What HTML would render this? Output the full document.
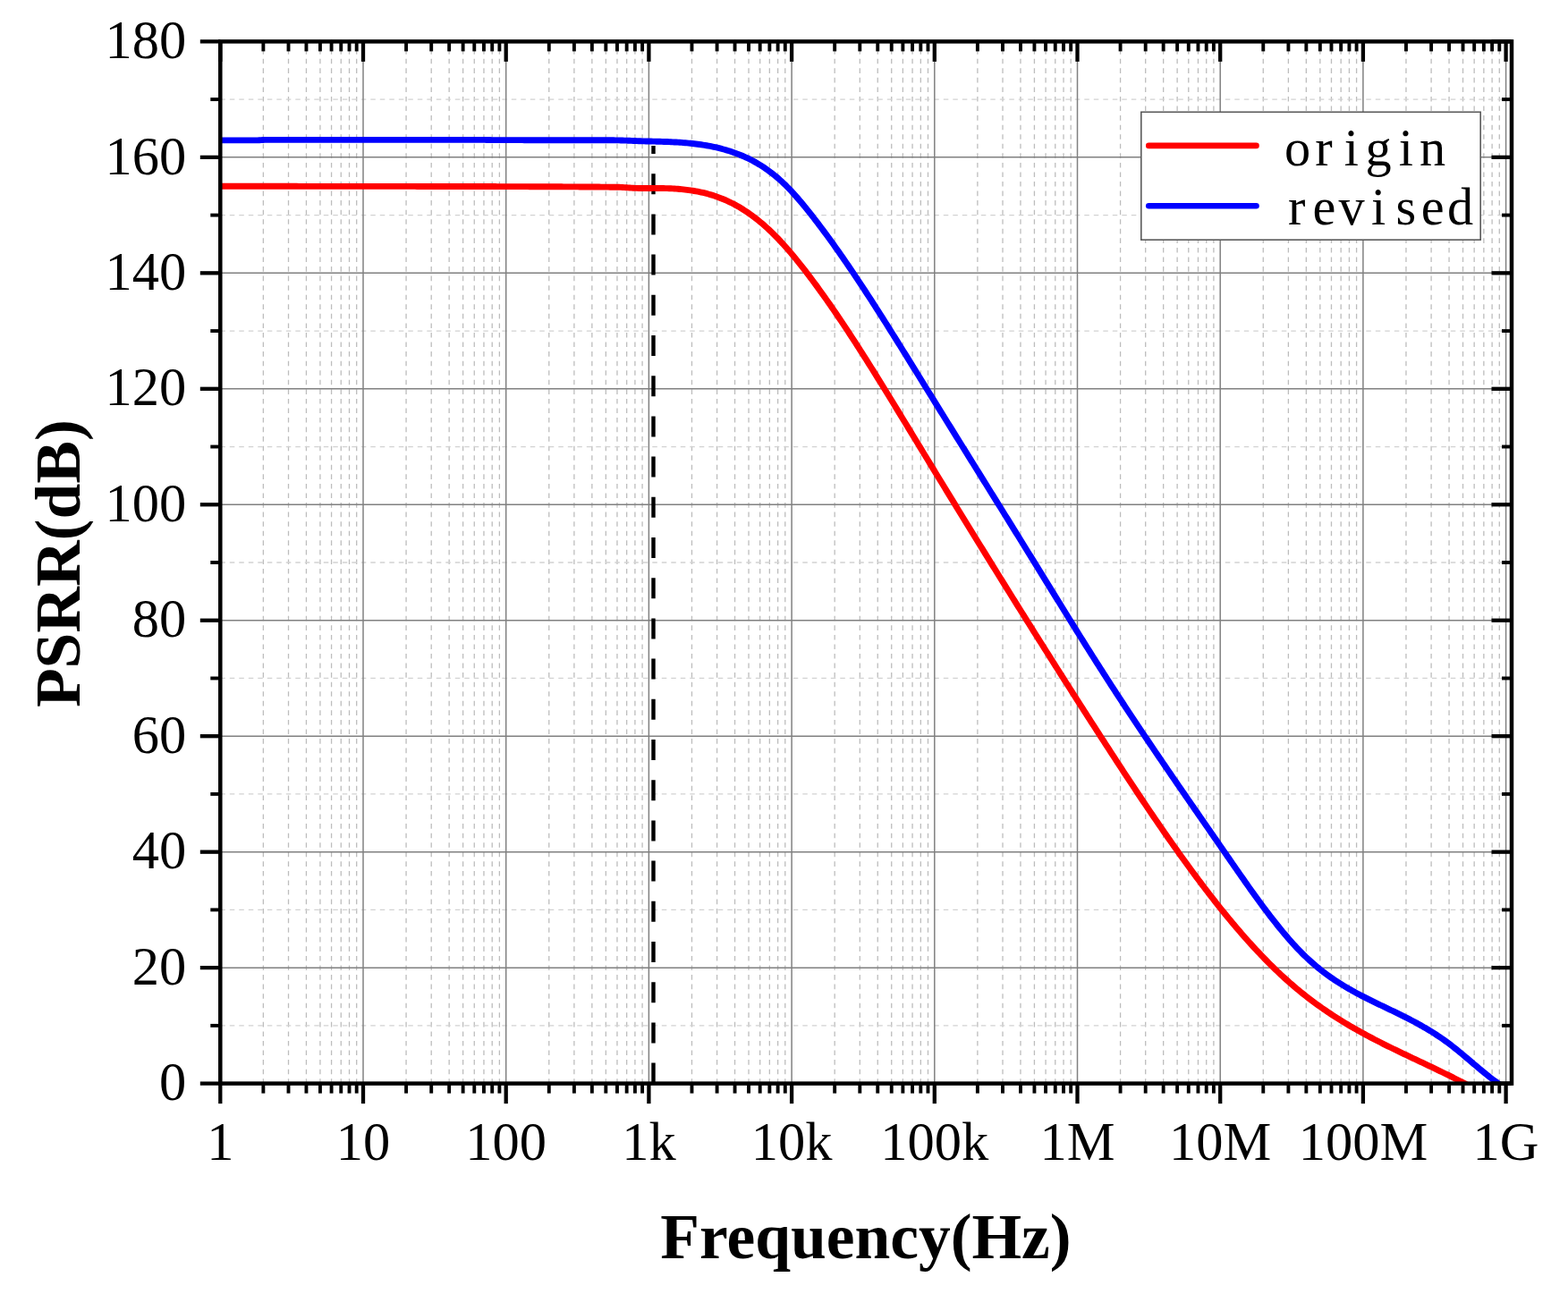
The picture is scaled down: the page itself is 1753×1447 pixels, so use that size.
<!DOCTYPE html>
<html><head><meta charset="utf-8"><title>PSRR</title><style>html,body{margin:0;padding:0;background:#fff;overflow:hidden}svg{display:block}</style></head><body>
<svg width="1753" height="1447" viewBox="0 0 1753 1447">
<rect width="1753" height="1447" fill="#fff"/>
<g stroke="#bdbdbd" stroke-width="1.3" stroke-dasharray="5.6 4.96" fill="none">
<line x1="294.37" y1="44.6" x2="294.37" y2="1211.6"/>
<line x1="322.50" y1="44.6" x2="322.50" y2="1211.6"/>
<line x1="342.45" y1="44.6" x2="342.45" y2="1211.6"/>
<line x1="357.93" y1="44.6" x2="357.93" y2="1211.6"/>
<line x1="370.57" y1="44.6" x2="370.57" y2="1211.6"/>
<line x1="381.26" y1="44.6" x2="381.26" y2="1211.6"/>
<line x1="390.52" y1="44.6" x2="390.52" y2="1211.6"/>
<line x1="398.69" y1="44.6" x2="398.69" y2="1211.6"/>
<line x1="454.07" y1="44.6" x2="454.07" y2="1211.6"/>
<line x1="482.20" y1="44.6" x2="482.20" y2="1211.6"/>
<line x1="502.15" y1="44.6" x2="502.15" y2="1211.6"/>
<line x1="517.63" y1="44.6" x2="517.63" y2="1211.6"/>
<line x1="530.27" y1="44.6" x2="530.27" y2="1211.6"/>
<line x1="540.96" y1="44.6" x2="540.96" y2="1211.6"/>
<line x1="550.22" y1="44.6" x2="550.22" y2="1211.6"/>
<line x1="558.39" y1="44.6" x2="558.39" y2="1211.6"/>
<line x1="613.77" y1="44.6" x2="613.77" y2="1211.6"/>
<line x1="641.90" y1="44.6" x2="641.90" y2="1211.6"/>
<line x1="661.85" y1="44.6" x2="661.85" y2="1211.6"/>
<line x1="677.33" y1="44.6" x2="677.33" y2="1211.6"/>
<line x1="689.97" y1="44.6" x2="689.97" y2="1211.6"/>
<line x1="700.66" y1="44.6" x2="700.66" y2="1211.6"/>
<line x1="709.92" y1="44.6" x2="709.92" y2="1211.6"/>
<line x1="718.09" y1="44.6" x2="718.09" y2="1211.6"/>
<line x1="773.47" y1="44.6" x2="773.47" y2="1211.6"/>
<line x1="801.60" y1="44.6" x2="801.60" y2="1211.6"/>
<line x1="821.55" y1="44.6" x2="821.55" y2="1211.6"/>
<line x1="837.03" y1="44.6" x2="837.03" y2="1211.6"/>
<line x1="849.67" y1="44.6" x2="849.67" y2="1211.6"/>
<line x1="860.36" y1="44.6" x2="860.36" y2="1211.6"/>
<line x1="869.62" y1="44.6" x2="869.62" y2="1211.6"/>
<line x1="877.79" y1="44.6" x2="877.79" y2="1211.6"/>
<line x1="933.17" y1="44.6" x2="933.17" y2="1211.6"/>
<line x1="961.30" y1="44.6" x2="961.30" y2="1211.6"/>
<line x1="981.25" y1="44.6" x2="981.25" y2="1211.6"/>
<line x1="996.73" y1="44.6" x2="996.73" y2="1211.6"/>
<line x1="1009.37" y1="44.6" x2="1009.37" y2="1211.6"/>
<line x1="1020.06" y1="44.6" x2="1020.06" y2="1211.6"/>
<line x1="1029.32" y1="44.6" x2="1029.32" y2="1211.6"/>
<line x1="1037.49" y1="44.6" x2="1037.49" y2="1211.6"/>
<line x1="1092.87" y1="44.6" x2="1092.87" y2="1211.6"/>
<line x1="1121.00" y1="44.6" x2="1121.00" y2="1211.6"/>
<line x1="1140.95" y1="44.6" x2="1140.95" y2="1211.6"/>
<line x1="1156.43" y1="44.6" x2="1156.43" y2="1211.6"/>
<line x1="1169.07" y1="44.6" x2="1169.07" y2="1211.6"/>
<line x1="1179.76" y1="44.6" x2="1179.76" y2="1211.6"/>
<line x1="1189.02" y1="44.6" x2="1189.02" y2="1211.6"/>
<line x1="1197.19" y1="44.6" x2="1197.19" y2="1211.6"/>
<line x1="1252.57" y1="44.6" x2="1252.57" y2="1211.6"/>
<line x1="1280.70" y1="44.6" x2="1280.70" y2="1211.6"/>
<line x1="1300.65" y1="44.6" x2="1300.65" y2="1211.6"/>
<line x1="1316.13" y1="44.6" x2="1316.13" y2="1211.6"/>
<line x1="1328.77" y1="44.6" x2="1328.77" y2="1211.6"/>
<line x1="1339.46" y1="44.6" x2="1339.46" y2="1211.6"/>
<line x1="1348.72" y1="44.6" x2="1348.72" y2="1211.6"/>
<line x1="1356.89" y1="44.6" x2="1356.89" y2="1211.6"/>
<line x1="1412.27" y1="44.6" x2="1412.27" y2="1211.6"/>
<line x1="1440.40" y1="44.6" x2="1440.40" y2="1211.6"/>
<line x1="1460.35" y1="44.6" x2="1460.35" y2="1211.6"/>
<line x1="1475.83" y1="44.6" x2="1475.83" y2="1211.6"/>
<line x1="1488.47" y1="44.6" x2="1488.47" y2="1211.6"/>
<line x1="1499.16" y1="44.6" x2="1499.16" y2="1211.6"/>
<line x1="1508.42" y1="44.6" x2="1508.42" y2="1211.6"/>
<line x1="1516.59" y1="44.6" x2="1516.59" y2="1211.6"/>
<line x1="1571.97" y1="44.6" x2="1571.97" y2="1211.6"/>
<line x1="1600.10" y1="44.6" x2="1600.10" y2="1211.6"/>
<line x1="1620.05" y1="44.6" x2="1620.05" y2="1211.6"/>
<line x1="1635.53" y1="44.6" x2="1635.53" y2="1211.6"/>
<line x1="1648.17" y1="44.6" x2="1648.17" y2="1211.6"/>
<line x1="1658.86" y1="44.6" x2="1658.86" y2="1211.6"/>
<line x1="1668.12" y1="44.6" x2="1668.12" y2="1211.6"/>
<line x1="1676.29" y1="44.6" x2="1676.29" y2="1211.6"/>
</g>
<g stroke="#d2d2d2" stroke-width="1.3" stroke-dasharray="5.5 5" fill="none">
<line x1="246.3" y1="1146.87" x2="1690.0" y2="1146.87"/>
<line x1="246.3" y1="1017.40" x2="1690.0" y2="1017.40"/>
<line x1="246.3" y1="887.93" x2="1690.0" y2="887.93"/>
<line x1="246.3" y1="758.47" x2="1690.0" y2="758.47"/>
<line x1="246.3" y1="629.00" x2="1690.0" y2="629.00"/>
<line x1="246.3" y1="499.53" x2="1690.0" y2="499.53"/>
<line x1="246.3" y1="370.07" x2="1690.0" y2="370.07"/>
<line x1="246.3" y1="240.60" x2="1690.0" y2="240.60"/>
<line x1="246.3" y1="111.13" x2="1690.0" y2="111.13"/>
</g>
<g stroke="#808080" stroke-width="1.5" fill="none">
<line x1="246.30" y1="1211.6" x2="246.30" y2="46.4"/>
<line x1="406.00" y1="1211.6" x2="406.00" y2="46.4"/>
<line x1="565.70" y1="1211.6" x2="565.70" y2="46.4"/>
<line x1="725.40" y1="1211.6" x2="725.40" y2="46.4"/>
<line x1="885.10" y1="1211.6" x2="885.10" y2="46.4"/>
<line x1="1044.80" y1="1211.6" x2="1044.80" y2="46.4"/>
<line x1="1204.50" y1="1211.6" x2="1204.50" y2="46.4"/>
<line x1="1364.20" y1="1211.6" x2="1364.20" y2="46.4"/>
<line x1="1523.90" y1="1211.6" x2="1523.90" y2="46.4"/>
<line x1="1683.60" y1="1211.6" x2="1683.60" y2="46.4"/>
<line x1="246.3" y1="1082.13" x2="1690.0" y2="1082.13"/>
<line x1="246.3" y1="952.67" x2="1690.0" y2="952.67"/>
<line x1="246.3" y1="823.20" x2="1690.0" y2="823.20"/>
<line x1="246.3" y1="693.73" x2="1690.0" y2="693.73"/>
<line x1="246.3" y1="564.27" x2="1690.0" y2="564.27"/>
<line x1="246.3" y1="434.80" x2="1690.0" y2="434.80"/>
<line x1="246.3" y1="305.33" x2="1690.0" y2="305.33"/>
<line x1="246.3" y1="175.87" x2="1690.0" y2="175.87"/>
</g>
<line x1="730.5" y1="1211.6" x2="730.5" y2="163.1" stroke="#000" stroke-width="4.4" stroke-dasharray="23 22.2"/>
<defs><clipPath id="pc"><rect x="246.3" y="46.4" width="1443.7" height="1165.2"/></clipPath></defs>
<g clip-path="url(#pc)" fill="none" stroke-width="6.9" stroke-linejoin="round">
<path d="M246.0,208.30 L248.0,208.30 L250.0,208.30 L252.0,208.30 L254.0,208.30 L256.0,208.30 L258.0,208.30 L260.0,208.30 L262.0,208.30 L264.0,208.30 L266.0,208.30 L268.0,208.30 L270.0,208.30 L272.0,208.30 L274.0,208.30 L276.0,208.30 L278.0,208.30 L280.0,208.30 L282.0,208.30 L284.0,208.31 L286.0,208.31 L288.0,208.31 L290.0,208.31 L292.0,208.31 L294.0,208.31 L296.0,208.31 L298.0,208.31 L300.0,208.31 L302.0,208.31 L304.0,208.31 L306.0,208.31 L308.0,208.31 L310.0,208.31 L312.0,208.31 L314.0,208.32 L316.0,208.32 L318.0,208.32 L320.0,208.32 L322.0,208.32 L324.0,208.32 L326.0,208.32 L328.0,208.32 L330.0,208.32 L332.0,208.32 L334.0,208.33 L336.0,208.33 L338.0,208.33 L340.0,208.33 L342.0,208.33 L344.0,208.33 L346.0,208.33 L348.0,208.33 L350.0,208.33 L352.0,208.34 L354.0,208.34 L356.0,208.34 L358.0,208.34 L360.0,208.34 L362.0,208.34 L364.0,208.34 L366.0,208.34 L368.0,208.35 L370.0,208.35 L372.0,208.35 L374.0,208.35 L376.0,208.35 L378.0,208.35 L380.0,208.35 L382.0,208.36 L384.0,208.36 L386.0,208.36 L388.0,208.36 L390.0,208.36 L392.0,208.36 L394.0,208.36 L396.0,208.37 L398.0,208.37 L400.0,208.37 L402.0,208.37 L404.0,208.37 L406.0,208.37 L408.0,208.37 L410.0,208.38 L412.0,208.38 L414.0,208.38 L416.0,208.38 L418.0,208.38 L420.0,208.38 L422.0,208.39 L424.0,208.39 L426.0,208.39 L428.0,208.39 L430.0,208.39 L432.0,208.39 L434.0,208.40 L436.0,208.40 L438.0,208.40 L440.0,208.40 L442.0,208.40 L444.0,208.40 L446.0,208.41 L448.0,208.41 L450.0,208.41 L452.0,208.41 L454.0,208.41 L456.0,208.41 L458.0,208.42 L460.0,208.42 L462.0,208.42 L464.0,208.42 L466.0,208.43 L468.0,208.43 L470.0,208.43 L472.0,208.43 L474.0,208.43 L476.0,208.44 L478.0,208.44 L480.0,208.44 L482.0,208.45 L484.0,208.45 L486.0,208.45 L488.0,208.45 L490.0,208.46 L492.0,208.46 L494.0,208.46 L496.0,208.47 L498.0,208.47 L500.0,208.47 L502.0,208.47 L504.0,208.48 L506.0,208.48 L508.0,208.48 L510.0,208.49 L512.0,208.49 L514.0,208.49 L516.0,208.50 L518.0,208.50 L520.0,208.51 L522.0,208.51 L524.0,208.51 L526.0,208.52 L528.0,208.52 L530.0,208.52 L532.0,208.53 L534.0,208.53 L536.0,208.54 L538.0,208.54 L540.0,208.54 L542.0,208.55 L544.0,208.55 L546.0,208.56 L548.0,208.56 L550.0,208.57 L552.0,208.57 L554.0,208.57 L556.0,208.58 L558.0,208.58 L560.0,208.59 L562.0,208.59 L564.0,208.60 L566.0,208.60 L568.0,208.61 L570.0,208.61 L572.0,208.62 L574.0,208.62 L576.0,208.63 L578.0,208.63 L580.0,208.64 L582.0,208.65 L584.0,208.65 L586.0,208.66 L588.0,208.66 L590.0,208.67 L592.0,208.68 L594.0,208.68 L596.0,208.69 L598.0,208.70 L600.0,208.70 L602.0,208.71 L604.0,208.72 L606.0,208.73 L608.0,208.74 L610.0,208.74 L612.0,208.75 L614.0,208.76 L616.0,208.77 L618.0,208.78 L620.0,208.79 L622.0,208.79 L624.0,208.80 L626.0,208.81 L628.0,208.82 L630.0,208.83 L632.0,208.84 L634.0,208.85 L636.0,208.86 L638.0,208.87 L640.0,208.88 L642.0,208.89 L644.0,208.91 L646.0,208.92 L648.0,208.93 L650.0,208.94 L652.0,208.95 L654.0,208.96 L656.0,208.98 L658.0,208.99 L660.0,209.00 L662.0,209.01 L664.0,209.03 L666.0,209.04 L668.0,209.06 L670.0,209.07 L672.0,209.09 L674.0,209.10 L676.0,209.12 L678.0,209.14 L680.0,209.16 L682.0,209.18 L684.0,209.20 L686.0,209.22 L688.0,209.24 L690.0,209.27 L692.0,209.31 L694.0,209.38 L696.0,209.48 L698.0,209.60 L700.0,209.73 L702.0,209.87 L704.0,210.01 L706.0,210.13 L708.0,210.25 L710.0,210.35 L712.0,210.42 L714.0,210.47 L716.0,210.50 L718.0,210.51 L720.0,210.49 L722.0,210.47 L724.0,210.45 L726.0,210.44 L728.0,210.43 L730.0,210.42 L732.0,210.42 L734.0,210.43 L736.0,210.44 L738.0,210.46 L740.0,210.50 L742.0,210.54 L744.0,210.59 L746.0,210.65 L748.0,210.72 L750.0,210.81 L752.0,210.91 L754.0,211.03 L756.0,211.16 L758.0,211.31 L760.0,211.47 L762.0,211.65 L764.0,211.85 L766.0,212.07 L768.0,212.31 L770.0,212.56 L772.0,212.84 L774.0,213.15 L776.0,213.47 L778.0,213.82 L780.0,214.20 L782.0,214.60 L784.0,215.02 L786.0,215.47 L788.0,215.95 L790.0,216.46 L792.0,217.00 L794.0,217.57 L796.0,218.17 L798.0,218.80 L800.0,219.46 L802.0,220.16 L804.0,220.89 L806.0,221.65 L808.0,222.45 L810.0,223.29 L812.0,224.16 L814.0,225.07 L816.0,226.02 L818.0,227.01 L820.0,228.04 L822.0,229.11 L824.0,230.22 L826.0,231.36 L828.0,232.55 L830.0,233.78 L832.0,235.05 L834.0,236.35 L836.0,237.70 L838.0,239.09 L840.0,240.52 L842.0,242.00 L844.0,243.51 L846.0,245.06 L848.0,246.66 L850.0,248.30 L852.0,249.98 L854.0,251.70 L856.0,253.47 L858.0,255.27 L860.0,257.12 L862.0,259.02 L864.0,260.95 L866.0,262.93 L868.0,264.95 L870.0,267.02 L872.0,269.13 L874.0,271.28 L876.0,273.47 L878.0,275.70 L880.0,277.97 L882.0,280.28 L884.0,282.62 L886.0,284.99 L888.0,287.40 L890.0,289.84 L892.0,292.31 L894.0,294.81 L896.0,297.34 L898.0,299.89 L900.0,302.47 L902.0,305.07 L904.0,307.70 L906.0,310.35 L908.0,313.02 L910.0,315.71 L912.0,318.42 L914.0,321.15 L916.0,323.91 L918.0,326.68 L920.0,329.48 L922.0,332.29 L924.0,335.12 L926.0,337.98 L928.0,340.84 L930.0,343.73 L932.0,346.64 L934.0,349.56 L936.0,352.50 L938.0,355.45 L940.0,358.42 L942.0,361.41 L944.0,364.41 L946.0,367.43 L948.0,370.46 L950.0,373.50 L952.0,376.56 L954.0,379.63 L956.0,382.72 L958.0,385.81 L960.0,388.92 L962.0,392.04 L964.0,395.17 L966.0,398.32 L968.0,401.47 L970.0,404.63 L972.0,407.81 L974.0,410.99 L976.0,414.18 L978.0,417.38 L980.0,420.59 L982.0,423.81 L984.0,427.03 L986.0,430.27 L988.0,433.50 L990.0,436.75 L992.0,440.00 L994.0,443.26 L996.0,446.52 L998.0,449.78 L1000.0,453.05 L1002.0,456.33 L1004.0,459.61 L1006.0,462.89 L1008.0,466.18 L1010.0,469.46 L1012.0,472.75 L1014.0,476.04 L1016.0,479.34 L1018.0,482.63 L1020.0,485.92 L1022.0,489.22 L1024.0,492.51 L1026.0,495.81 L1028.0,499.10 L1030.0,502.39 L1032.0,505.68 L1034.0,508.97 L1036.0,512.26 L1038.0,515.55 L1040.0,518.83 L1042.0,522.12 L1044.0,525.40 L1046.0,528.68 L1048.0,531.96 L1050.0,535.23 L1052.0,538.51 L1054.0,541.79 L1056.0,545.06 L1058.0,548.33 L1060.0,551.60 L1062.0,554.87 L1064.0,558.14 L1066.0,561.40 L1068.0,564.67 L1070.0,567.93 L1072.0,571.19 L1074.0,574.45 L1076.0,577.71 L1078.0,580.96 L1080.0,584.22 L1082.0,587.47 L1084.0,590.72 L1086.0,593.97 L1088.0,597.22 L1090.0,600.46 L1092.0,603.71 L1094.0,606.95 L1096.0,610.19 L1098.0,613.43 L1100.0,616.66 L1102.0,619.90 L1104.0,623.13 L1106.0,626.37 L1108.0,629.60 L1110.0,632.82 L1112.0,636.05 L1114.0,639.27 L1116.0,642.50 L1118.0,645.72 L1120.0,648.94 L1122.0,652.15 L1124.0,655.37 L1126.0,658.58 L1128.0,661.79 L1130.0,665.00 L1132.0,668.21 L1134.0,671.42 L1136.0,674.62 L1138.0,677.82 L1140.0,681.02 L1142.0,684.22 L1144.0,687.42 L1146.0,690.61 L1148.0,693.80 L1150.0,696.99 L1152.0,700.18 L1154.0,703.36 L1156.0,706.55 L1158.0,709.73 L1160.0,712.91 L1162.0,716.08 L1164.0,719.26 L1166.0,722.43 L1168.0,725.60 L1170.0,728.77 L1172.0,731.94 L1174.0,735.10 L1176.0,738.27 L1178.0,741.43 L1180.0,744.58 L1182.0,747.74 L1184.0,750.89 L1186.0,754.04 L1188.0,757.19 L1190.0,760.34 L1192.0,763.48 L1194.0,766.62 L1196.0,769.76 L1198.0,772.90 L1200.0,776.04 L1202.0,779.17 L1204.0,782.30 L1206.0,785.43 L1208.0,788.55 L1210.0,791.68 L1212.0,794.80 L1214.0,797.92 L1216.0,801.03 L1218.0,804.15 L1220.0,807.26 L1222.0,810.37 L1224.0,813.47 L1226.0,816.58 L1228.0,819.68 L1230.0,822.78 L1232.0,825.87 L1234.0,828.97 L1236.0,832.06 L1238.0,835.15 L1240.0,838.23 L1242.0,841.31 L1244.0,844.39 L1246.0,847.46 L1248.0,850.53 L1250.0,853.60 L1252.0,856.66 L1254.0,859.71 L1256.0,862.77 L1258.0,865.81 L1260.0,868.85 L1262.0,871.89 L1264.0,874.92 L1266.0,877.94 L1268.0,880.96 L1270.0,883.97 L1272.0,886.98 L1274.0,889.98 L1276.0,892.97 L1278.0,895.96 L1280.0,898.94 L1282.0,901.91 L1284.0,904.87 L1286.0,907.83 L1288.0,910.78 L1290.0,913.72 L1292.0,916.65 L1294.0,919.57 L1296.0,922.48 L1298.0,925.39 L1300.0,928.29 L1302.0,931.18 L1304.0,934.05 L1306.0,936.92 L1308.0,939.78 L1310.0,942.63 L1312.0,945.47 L1314.0,948.30 L1316.0,951.11 L1318.0,953.92 L1320.0,956.72 L1322.0,959.50 L1324.0,962.27 L1326.0,965.04 L1328.0,967.79 L1330.0,970.53 L1332.0,973.25 L1334.0,975.97 L1336.0,978.67 L1338.0,981.36 L1340.0,984.03 L1342.0,986.69 L1344.0,989.34 L1346.0,991.98 L1348.0,994.60 L1350.0,997.21 L1352.0,999.81 L1354.0,1002.39 L1356.0,1004.95 L1358.0,1007.50 L1360.0,1010.04 L1362.0,1012.56 L1364.0,1015.07 L1366.0,1017.56 L1368.0,1020.04 L1370.0,1022.50 L1372.0,1024.94 L1374.0,1027.37 L1376.0,1029.78 L1378.0,1032.18 L1380.0,1034.55 L1382.0,1036.92 L1384.0,1039.26 L1386.0,1041.59 L1388.0,1043.90 L1390.0,1046.19 L1392.0,1048.46 L1394.0,1050.72 L1396.0,1052.96 L1398.0,1055.18 L1400.0,1057.38 L1402.0,1059.56 L1404.0,1061.72 L1406.0,1063.87 L1408.0,1065.99 L1410.0,1068.10 L1412.0,1070.18 L1414.0,1072.25 L1416.0,1074.29 L1418.0,1076.32 L1420.0,1078.32 L1422.0,1080.30 L1424.0,1082.27 L1426.0,1084.21 L1428.0,1086.13 L1430.0,1088.03 L1432.0,1089.91 L1434.0,1091.76 L1436.0,1093.59 L1438.0,1095.40 L1440.0,1097.19 L1442.0,1098.96 L1444.0,1100.70 L1446.0,1102.42 L1448.0,1104.12 L1450.0,1105.80 L1452.0,1107.46 L1454.0,1109.09 L1456.0,1110.71 L1458.0,1112.30 L1460.0,1113.88 L1462.0,1115.44 L1464.0,1116.97 L1466.0,1118.49 L1468.0,1119.99 L1470.0,1121.47 L1472.0,1122.93 L1474.0,1124.37 L1476.0,1125.80 L1478.0,1127.21 L1480.0,1128.60 L1482.0,1129.97 L1484.0,1131.33 L1486.0,1132.68 L1488.0,1134.00 L1490.0,1135.31 L1492.0,1136.61 L1494.0,1137.89 L1496.0,1139.16 L1498.0,1140.41 L1500.0,1141.65 L1502.0,1142.88 L1504.0,1144.09 L1506.0,1145.29 L1508.0,1146.48 L1510.0,1147.65 L1512.0,1148.81 L1514.0,1149.97 L1516.0,1151.10 L1518.0,1152.23 L1520.0,1153.35 L1522.0,1154.46 L1524.0,1155.56 L1526.0,1156.64 L1528.0,1157.72 L1530.0,1158.79 L1532.0,1159.85 L1534.0,1160.90 L1536.0,1161.95 L1538.0,1162.98 L1540.0,1164.01 L1542.0,1165.03 L1544.0,1166.05 L1546.0,1167.06 L1548.0,1168.06 L1550.0,1169.05 L1552.0,1170.04 L1554.0,1171.03 L1556.0,1172.01 L1558.0,1172.99 L1560.0,1173.96 L1562.0,1174.92 L1564.0,1175.89 L1566.0,1176.85 L1568.0,1177.81 L1570.0,1178.76 L1572.0,1179.71 L1574.0,1180.66 L1576.0,1181.61 L1578.0,1182.56 L1580.0,1183.51 L1582.0,1184.45 L1584.0,1185.40 L1586.0,1186.34 L1588.0,1187.29 L1590.0,1188.23 L1592.0,1189.18 L1594.0,1190.12 L1596.0,1191.07 L1598.0,1192.02 L1600.0,1192.98 L1602.0,1193.93 L1604.0,1194.89 L1606.0,1195.85 L1608.0,1196.82 L1610.0,1197.79 L1612.0,1198.76 L1614.0,1199.73 L1616.0,1200.72 L1618.0,1201.70 L1620.0,1202.69 L1622.0,1203.69 L1624.0,1204.70 L1626.0,1205.71 L1628.0,1206.72 L1630.0,1207.75 L1632.0,1208.78 L1634.0,1209.81 L1636.0,1210.86 L1638.0,1211.91 L1640.0,1212.98 L1642.0,1214.05 L1644.0,1215.13 L1645.0,1215.67" stroke="#ff0000"/>
<path d="M246.0,156.90 L248.0,156.90 L250.0,156.90 L252.0,156.90 L254.0,156.90 L256.0,156.90 L258.0,156.90 L260.0,156.90 L262.0,156.90 L264.0,156.90 L266.0,156.90 L268.0,156.90 L270.0,156.90 L272.0,156.90 L274.0,156.90 L276.0,156.90 L278.0,156.90 L280.0,156.90 L282.0,156.90 L284.0,156.90 L286.0,156.90 L288.0,156.85 L290.0,156.72 L292.0,156.58 L294.0,156.45 L296.0,156.40 L298.0,156.40 L300.0,156.40 L302.0,156.40 L304.0,156.40 L306.0,156.40 L308.0,156.40 L310.0,156.40 L312.0,156.40 L314.0,156.40 L316.0,156.40 L318.0,156.40 L320.0,156.40 L322.0,156.40 L324.0,156.40 L326.0,156.40 L328.0,156.40 L330.0,156.40 L332.0,156.40 L334.0,156.40 L336.0,156.40 L338.0,156.40 L340.0,156.40 L342.0,156.40 L344.0,156.40 L346.0,156.40 L348.0,156.40 L350.0,156.40 L352.0,156.40 L354.0,156.40 L356.0,156.40 L358.0,156.40 L360.0,156.40 L362.0,156.40 L364.0,156.40 L366.0,156.40 L368.0,156.40 L370.0,156.40 L372.0,156.40 L374.0,156.40 L376.0,156.40 L378.0,156.40 L380.0,156.40 L382.0,156.40 L384.0,156.40 L386.0,156.40 L388.0,156.40 L390.0,156.40 L392.0,156.40 L394.0,156.40 L396.0,156.40 L398.0,156.40 L400.0,156.40 L402.0,156.40 L404.0,156.40 L406.0,156.40 L408.0,156.40 L410.0,156.40 L412.0,156.40 L414.0,156.40 L416.0,156.40 L418.0,156.40 L420.0,156.40 L422.0,156.40 L424.0,156.40 L426.0,156.40 L428.0,156.40 L430.0,156.40 L432.0,156.40 L434.0,156.40 L436.0,156.40 L438.0,156.40 L440.0,156.40 L442.0,156.40 L444.0,156.40 L446.0,156.40 L448.0,156.40 L450.0,156.40 L452.0,156.40 L454.0,156.40 L456.0,156.40 L458.0,156.40 L460.0,156.40 L462.0,156.40 L464.0,156.40 L466.0,156.40 L468.0,156.40 L470.0,156.40 L472.0,156.40 L474.0,156.40 L476.0,156.40 L478.0,156.40 L480.0,156.40 L482.0,156.40 L484.0,156.40 L486.0,156.40 L488.0,156.40 L490.0,156.40 L492.0,156.40 L494.0,156.40 L496.0,156.40 L498.0,156.40 L500.0,156.40 L502.0,156.40 L504.0,156.40 L506.0,156.40 L508.0,156.40 L510.0,156.40 L512.0,156.40 L514.0,156.40 L516.0,156.40 L518.0,156.40 L520.0,156.40 L522.0,156.40 L524.0,156.40 L526.0,156.40 L528.0,156.40 L530.0,156.40 L532.0,156.40 L534.0,156.40 L536.0,156.40 L538.0,156.40 L540.0,156.40 L542.0,156.41 L544.0,156.45 L546.0,156.49 L548.0,156.54 L550.0,156.58 L552.0,156.60 L554.0,156.61 L556.0,156.61 L558.0,156.62 L560.0,156.63 L562.0,156.63 L564.0,156.64 L566.0,156.64 L568.0,156.65 L570.0,156.65 L572.0,156.65 L574.0,156.66 L576.0,156.66 L578.0,156.67 L580.0,156.67 L582.0,156.67 L584.0,156.67 L586.0,156.68 L588.0,156.68 L590.0,156.68 L592.0,156.68 L594.0,156.68 L596.0,156.69 L598.0,156.69 L600.0,156.69 L602.0,156.69 L604.0,156.69 L606.0,156.69 L608.0,156.69 L610.0,156.70 L612.0,156.70 L614.0,156.70 L616.0,156.70 L618.0,156.70 L620.0,156.70 L622.0,156.70 L624.0,156.70 L626.0,156.70 L628.0,156.70 L630.0,156.71 L632.0,156.71 L634.0,156.71 L636.0,156.71 L638.0,156.71 L640.0,156.71 L642.0,156.71 L644.0,156.71 L646.0,156.72 L648.0,156.72 L650.0,156.72 L652.0,156.72 L654.0,156.73 L656.0,156.73 L658.0,156.73 L660.0,156.74 L662.0,156.74 L664.0,156.74 L666.0,156.75 L668.0,156.75 L670.0,156.76 L672.0,156.76 L674.0,156.77 L676.0,156.77 L678.0,156.78 L680.0,156.78 L682.0,156.79 L684.0,156.80 L686.0,156.81 L688.0,156.83 L690.0,156.87 L692.0,156.92 L694.0,156.97 L696.0,157.03 L698.0,157.09 L700.0,157.15 L702.0,157.22 L704.0,157.29 L706.0,157.37 L708.0,157.46 L710.0,157.54 L712.0,157.63 L714.0,157.71 L716.0,157.78 L718.0,157.85 L720.0,157.90 L722.0,157.94 L724.0,157.98 L726.0,158.03 L728.0,158.07 L730.0,158.11 L732.0,158.16 L734.0,158.21 L736.0,158.26 L738.0,158.31 L740.0,158.37 L742.0,158.43 L744.0,158.50 L746.0,158.57 L748.0,158.65 L750.0,158.74 L752.0,158.83 L754.0,158.93 L756.0,159.04 L758.0,159.16 L760.0,159.28 L762.0,159.42 L764.0,159.57 L766.0,159.73 L768.0,159.90 L770.0,160.09 L772.0,160.29 L774.0,160.50 L776.0,160.72 L778.0,160.96 L780.0,161.22 L782.0,161.49 L784.0,161.78 L786.0,162.08 L788.0,162.40 L790.0,162.74 L792.0,163.10 L794.0,163.48 L796.0,163.88 L798.0,164.30 L800.0,164.74 L802.0,165.20 L804.0,165.68 L806.0,166.19 L808.0,166.72 L810.0,167.27 L812.0,167.85 L814.0,168.45 L816.0,169.08 L818.0,169.73 L820.0,170.42 L822.0,171.13 L824.0,171.87 L826.0,172.64 L828.0,173.44 L830.0,174.28 L832.0,175.14 L834.0,176.05 L836.0,176.99 L838.0,177.96 L840.0,178.98 L842.0,180.03 L844.0,181.13 L846.0,182.26 L848.0,183.44 L850.0,184.66 L852.0,185.92 L854.0,187.23 L856.0,188.58 L858.0,189.99 L860.0,191.44 L862.0,192.94 L864.0,194.49 L866.0,196.09 L868.0,197.75 L870.0,199.46 L872.0,201.22 L874.0,203.04 L876.0,204.92 L878.0,206.85 L880.0,208.84 L882.0,210.89 L884.0,212.99 L886.0,215.14 L888.0,217.34 L890.0,219.58 L892.0,221.87 L894.0,224.20 L896.0,226.56 L898.0,228.97 L900.0,231.40 L902.0,233.87 L904.0,236.36 L906.0,238.89 L908.0,241.43 L910.0,244.00 L912.0,246.59 L914.0,249.20 L916.0,251.83 L918.0,254.48 L920.0,257.15 L922.0,259.85 L924.0,262.56 L926.0,265.29 L928.0,268.04 L930.0,270.81 L932.0,273.60 L934.0,276.41 L936.0,279.23 L938.0,282.07 L940.0,284.93 L942.0,287.80 L944.0,290.69 L946.0,293.60 L948.0,296.52 L950.0,299.46 L952.0,302.41 L954.0,305.37 L956.0,308.35 L958.0,311.35 L960.0,314.35 L962.0,317.37 L964.0,320.40 L966.0,323.44 L968.0,326.50 L970.0,329.57 L972.0,332.64 L974.0,335.73 L976.0,338.83 L978.0,341.94 L980.0,345.05 L982.0,348.18 L984.0,351.32 L986.0,354.46 L988.0,357.61 L990.0,360.77 L992.0,363.94 L994.0,367.11 L996.0,370.29 L998.0,373.48 L1000.0,376.67 L1002.0,379.87 L1004.0,383.07 L1006.0,386.28 L1008.0,389.49 L1010.0,392.71 L1012.0,395.93 L1014.0,399.15 L1016.0,402.38 L1018.0,405.61 L1020.0,408.84 L1022.0,412.07 L1024.0,415.30 L1026.0,418.54 L1028.0,421.77 L1030.0,425.01 L1032.0,428.25 L1034.0,431.48 L1036.0,434.72 L1038.0,437.95 L1040.0,441.18 L1042.0,444.41 L1044.0,447.64 L1046.0,450.87 L1048.0,454.10 L1050.0,457.33 L1052.0,460.56 L1054.0,463.78 L1056.0,467.01 L1058.0,470.23 L1060.0,473.45 L1062.0,476.68 L1064.0,479.90 L1066.0,483.12 L1068.0,486.34 L1070.0,489.56 L1072.0,492.78 L1074.0,496.00 L1076.0,499.22 L1078.0,502.44 L1080.0,505.65 L1082.0,508.87 L1084.0,512.09 L1086.0,515.31 L1088.0,518.52 L1090.0,521.74 L1092.0,524.96 L1094.0,528.18 L1096.0,531.39 L1098.0,534.61 L1100.0,537.83 L1102.0,541.05 L1104.0,544.27 L1106.0,547.48 L1108.0,550.70 L1110.0,553.92 L1112.0,557.14 L1114.0,560.36 L1116.0,563.58 L1118.0,566.80 L1120.0,570.02 L1122.0,573.25 L1124.0,576.47 L1126.0,579.69 L1128.0,582.92 L1130.0,586.14 L1132.0,589.37 L1134.0,592.60 L1136.0,595.82 L1138.0,599.05 L1140.0,602.28 L1142.0,605.51 L1144.0,608.74 L1146.0,611.98 L1148.0,615.21 L1150.0,618.45 L1152.0,621.68 L1154.0,624.92 L1156.0,628.16 L1158.0,631.40 L1160.0,634.65 L1162.0,637.89 L1164.0,641.13 L1166.0,644.38 L1168.0,647.62 L1170.0,650.87 L1172.0,654.11 L1174.0,657.36 L1176.0,660.60 L1178.0,663.84 L1180.0,667.08 L1182.0,670.32 L1184.0,673.56 L1186.0,676.80 L1188.0,680.03 L1190.0,683.27 L1192.0,686.50 L1194.0,689.72 L1196.0,692.95 L1198.0,696.17 L1200.0,699.39 L1202.0,702.60 L1204.0,705.81 L1206.0,709.02 L1208.0,712.22 L1210.0,715.42 L1212.0,718.61 L1214.0,721.80 L1216.0,724.98 L1218.0,728.16 L1220.0,731.33 L1222.0,734.50 L1224.0,737.66 L1226.0,740.81 L1228.0,743.96 L1230.0,747.10 L1232.0,750.23 L1234.0,753.35 L1236.0,756.47 L1238.0,759.58 L1240.0,762.69 L1242.0,765.78 L1244.0,768.87 L1246.0,771.95 L1248.0,775.02 L1250.0,778.09 L1252.0,781.15 L1254.0,784.20 L1256.0,787.24 L1258.0,790.28 L1260.0,793.31 L1262.0,796.34 L1264.0,799.36 L1266.0,802.37 L1268.0,805.38 L1270.0,808.38 L1272.0,811.38 L1274.0,814.37 L1276.0,817.36 L1278.0,820.34 L1280.0,823.32 L1282.0,826.29 L1284.0,829.25 L1286.0,832.21 L1288.0,835.17 L1290.0,838.12 L1292.0,841.07 L1294.0,844.02 L1296.0,846.96 L1298.0,849.90 L1300.0,852.83 L1302.0,855.76 L1304.0,858.69 L1306.0,861.61 L1308.0,864.53 L1310.0,867.45 L1312.0,870.36 L1314.0,873.27 L1316.0,876.18 L1318.0,879.09 L1320.0,881.99 L1322.0,884.90 L1324.0,887.80 L1326.0,890.70 L1328.0,893.59 L1330.0,896.49 L1332.0,899.38 L1334.0,902.28 L1336.0,905.17 L1338.0,908.06 L1340.0,910.95 L1342.0,913.84 L1344.0,916.73 L1346.0,919.62 L1348.0,922.50 L1350.0,925.39 L1352.0,928.28 L1354.0,931.17 L1356.0,934.05 L1358.0,936.94 L1360.0,939.83 L1362.0,942.72 L1364.0,945.61 L1366.0,948.50 L1368.0,951.40 L1370.0,954.29 L1372.0,957.18 L1374.0,960.08 L1376.0,962.97 L1378.0,965.86 L1380.0,968.75 L1382.0,971.63 L1384.0,974.51 L1386.0,977.38 L1388.0,980.25 L1390.0,983.10 L1392.0,985.95 L1394.0,988.79 L1396.0,991.62 L1398.0,994.43 L1400.0,997.23 L1402.0,1000.02 L1404.0,1002.79 L1406.0,1005.54 L1408.0,1008.28 L1410.0,1011.00 L1412.0,1013.70 L1414.0,1016.38 L1416.0,1019.04 L1418.0,1021.68 L1420.0,1024.29 L1422.0,1026.88 L1424.0,1029.44 L1426.0,1031.98 L1428.0,1034.49 L1430.0,1036.97 L1432.0,1039.43 L1434.0,1041.85 L1436.0,1044.24 L1438.0,1046.60 L1440.0,1048.93 L1442.0,1051.22 L1444.0,1053.47 L1446.0,1055.69 L1448.0,1057.88 L1450.0,1060.02 L1452.0,1062.13 L1454.0,1064.19 L1456.0,1066.21 L1458.0,1068.19 L1460.0,1070.13 L1462.0,1072.03 L1464.0,1073.88 L1466.0,1075.68 L1468.0,1077.45 L1470.0,1079.18 L1472.0,1080.86 L1474.0,1082.51 L1476.0,1084.12 L1478.0,1085.70 L1480.0,1087.23 L1482.0,1088.74 L1484.0,1090.21 L1486.0,1091.65 L1488.0,1093.06 L1490.0,1094.44 L1492.0,1095.80 L1494.0,1097.12 L1496.0,1098.42 L1498.0,1099.69 L1500.0,1100.94 L1502.0,1102.16 L1504.0,1103.36 L1506.0,1104.54 L1508.0,1105.70 L1510.0,1106.84 L1512.0,1107.96 L1514.0,1109.07 L1516.0,1110.16 L1518.0,1111.23 L1520.0,1112.30 L1522.0,1113.34 L1524.0,1114.38 L1526.0,1115.40 L1528.0,1116.42 L1530.0,1117.42 L1532.0,1118.42 L1534.0,1119.40 L1536.0,1120.39 L1538.0,1121.36 L1540.0,1122.33 L1542.0,1123.30 L1544.0,1124.26 L1546.0,1125.22 L1548.0,1126.17 L1550.0,1127.13 L1552.0,1128.09 L1554.0,1129.05 L1556.0,1130.01 L1558.0,1130.97 L1560.0,1131.94 L1562.0,1132.91 L1564.0,1133.89 L1566.0,1134.87 L1568.0,1135.86 L1570.0,1136.86 L1572.0,1137.87 L1574.0,1138.88 L1576.0,1139.91 L1578.0,1140.95 L1580.0,1142.01 L1582.0,1143.07 L1584.0,1144.15 L1586.0,1145.25 L1588.0,1146.36 L1590.0,1147.49 L1592.0,1148.64 L1594.0,1149.80 L1596.0,1150.99 L1598.0,1152.19 L1600.0,1153.42 L1602.0,1154.67 L1604.0,1155.94 L1606.0,1157.24 L1608.0,1158.56 L1610.0,1159.90 L1612.0,1161.28 L1614.0,1162.68 L1616.0,1164.11 L1618.0,1165.57 L1620.0,1167.06 L1622.0,1168.58 L1624.0,1170.13 L1626.0,1171.70 L1628.0,1173.30 L1630.0,1174.92 L1632.0,1176.55 L1634.0,1178.21 L1636.0,1179.88 L1638.0,1181.55 L1640.0,1183.24 L1642.0,1184.93 L1644.0,1186.63 L1646.0,1188.33 L1648.0,1190.03 L1650.0,1191.72 L1652.0,1193.41 L1654.0,1195.09 L1656.0,1196.75 L1658.0,1198.41 L1660.0,1200.04 L1662.0,1201.66 L1664.0,1203.26 L1666.0,1204.84 L1668.0,1206.38 L1670.0,1207.90 L1672.0,1209.39 L1674.0,1210.85 L1676.0,1212.27 L1678.0,1213.65 L1680.0,1214.99 L1682.0,1216.29 L1684.0,1217.54 L1685.0,1218.15" stroke="#0000ff"/>
</g>
<g stroke="#000" fill="none">
<line x1="246.30" y1="1211.6" x2="246.30" y2="1234.1" stroke-width="4.3"/>
<line x1="246.30" y1="46.4" x2="246.30" y2="68.9" stroke-width="4.3"/>
<line x1="294.37" y1="1211.6" x2="294.37" y2="1222.6" stroke-width="3.9"/>
<line x1="294.37" y1="46.4" x2="294.37" y2="57.4" stroke-width="3.9"/>
<line x1="322.50" y1="1211.6" x2="322.50" y2="1222.6" stroke-width="3.9"/>
<line x1="322.50" y1="46.4" x2="322.50" y2="57.4" stroke-width="3.9"/>
<line x1="342.45" y1="1211.6" x2="342.45" y2="1222.6" stroke-width="3.9"/>
<line x1="342.45" y1="46.4" x2="342.45" y2="57.4" stroke-width="3.9"/>
<line x1="357.93" y1="1211.6" x2="357.93" y2="1222.6" stroke-width="3.9"/>
<line x1="357.93" y1="46.4" x2="357.93" y2="57.4" stroke-width="3.9"/>
<line x1="370.57" y1="1211.6" x2="370.57" y2="1222.6" stroke-width="3.9"/>
<line x1="370.57" y1="46.4" x2="370.57" y2="57.4" stroke-width="3.9"/>
<line x1="381.26" y1="1211.6" x2="381.26" y2="1222.6" stroke-width="3.9"/>
<line x1="381.26" y1="46.4" x2="381.26" y2="57.4" stroke-width="3.9"/>
<line x1="390.52" y1="1211.6" x2="390.52" y2="1222.6" stroke-width="3.9"/>
<line x1="390.52" y1="46.4" x2="390.52" y2="57.4" stroke-width="3.9"/>
<line x1="398.69" y1="1211.6" x2="398.69" y2="1222.6" stroke-width="3.9"/>
<line x1="398.69" y1="46.4" x2="398.69" y2="57.4" stroke-width="3.9"/>
<line x1="406.00" y1="1211.6" x2="406.00" y2="1234.1" stroke-width="4.3"/>
<line x1="406.00" y1="46.4" x2="406.00" y2="68.9" stroke-width="4.3"/>
<line x1="454.07" y1="1211.6" x2="454.07" y2="1222.6" stroke-width="3.9"/>
<line x1="454.07" y1="46.4" x2="454.07" y2="57.4" stroke-width="3.9"/>
<line x1="482.20" y1="1211.6" x2="482.20" y2="1222.6" stroke-width="3.9"/>
<line x1="482.20" y1="46.4" x2="482.20" y2="57.4" stroke-width="3.9"/>
<line x1="502.15" y1="1211.6" x2="502.15" y2="1222.6" stroke-width="3.9"/>
<line x1="502.15" y1="46.4" x2="502.15" y2="57.4" stroke-width="3.9"/>
<line x1="517.63" y1="1211.6" x2="517.63" y2="1222.6" stroke-width="3.9"/>
<line x1="517.63" y1="46.4" x2="517.63" y2="57.4" stroke-width="3.9"/>
<line x1="530.27" y1="1211.6" x2="530.27" y2="1222.6" stroke-width="3.9"/>
<line x1="530.27" y1="46.4" x2="530.27" y2="57.4" stroke-width="3.9"/>
<line x1="540.96" y1="1211.6" x2="540.96" y2="1222.6" stroke-width="3.9"/>
<line x1="540.96" y1="46.4" x2="540.96" y2="57.4" stroke-width="3.9"/>
<line x1="550.22" y1="1211.6" x2="550.22" y2="1222.6" stroke-width="3.9"/>
<line x1="550.22" y1="46.4" x2="550.22" y2="57.4" stroke-width="3.9"/>
<line x1="558.39" y1="1211.6" x2="558.39" y2="1222.6" stroke-width="3.9"/>
<line x1="558.39" y1="46.4" x2="558.39" y2="57.4" stroke-width="3.9"/>
<line x1="565.70" y1="1211.6" x2="565.70" y2="1234.1" stroke-width="4.3"/>
<line x1="565.70" y1="46.4" x2="565.70" y2="68.9" stroke-width="4.3"/>
<line x1="613.77" y1="1211.6" x2="613.77" y2="1222.6" stroke-width="3.9"/>
<line x1="613.77" y1="46.4" x2="613.77" y2="57.4" stroke-width="3.9"/>
<line x1="641.90" y1="1211.6" x2="641.90" y2="1222.6" stroke-width="3.9"/>
<line x1="641.90" y1="46.4" x2="641.90" y2="57.4" stroke-width="3.9"/>
<line x1="661.85" y1="1211.6" x2="661.85" y2="1222.6" stroke-width="3.9"/>
<line x1="661.85" y1="46.4" x2="661.85" y2="57.4" stroke-width="3.9"/>
<line x1="677.33" y1="1211.6" x2="677.33" y2="1222.6" stroke-width="3.9"/>
<line x1="677.33" y1="46.4" x2="677.33" y2="57.4" stroke-width="3.9"/>
<line x1="689.97" y1="1211.6" x2="689.97" y2="1222.6" stroke-width="3.9"/>
<line x1="689.97" y1="46.4" x2="689.97" y2="57.4" stroke-width="3.9"/>
<line x1="700.66" y1="1211.6" x2="700.66" y2="1222.6" stroke-width="3.9"/>
<line x1="700.66" y1="46.4" x2="700.66" y2="57.4" stroke-width="3.9"/>
<line x1="709.92" y1="1211.6" x2="709.92" y2="1222.6" stroke-width="3.9"/>
<line x1="709.92" y1="46.4" x2="709.92" y2="57.4" stroke-width="3.9"/>
<line x1="718.09" y1="1211.6" x2="718.09" y2="1222.6" stroke-width="3.9"/>
<line x1="718.09" y1="46.4" x2="718.09" y2="57.4" stroke-width="3.9"/>
<line x1="725.40" y1="1211.6" x2="725.40" y2="1234.1" stroke-width="4.3"/>
<line x1="725.40" y1="46.4" x2="725.40" y2="68.9" stroke-width="4.3"/>
<line x1="773.47" y1="1211.6" x2="773.47" y2="1222.6" stroke-width="3.9"/>
<line x1="773.47" y1="46.4" x2="773.47" y2="57.4" stroke-width="3.9"/>
<line x1="801.60" y1="1211.6" x2="801.60" y2="1222.6" stroke-width="3.9"/>
<line x1="801.60" y1="46.4" x2="801.60" y2="57.4" stroke-width="3.9"/>
<line x1="821.55" y1="1211.6" x2="821.55" y2="1222.6" stroke-width="3.9"/>
<line x1="821.55" y1="46.4" x2="821.55" y2="57.4" stroke-width="3.9"/>
<line x1="837.03" y1="1211.6" x2="837.03" y2="1222.6" stroke-width="3.9"/>
<line x1="837.03" y1="46.4" x2="837.03" y2="57.4" stroke-width="3.9"/>
<line x1="849.67" y1="1211.6" x2="849.67" y2="1222.6" stroke-width="3.9"/>
<line x1="849.67" y1="46.4" x2="849.67" y2="57.4" stroke-width="3.9"/>
<line x1="860.36" y1="1211.6" x2="860.36" y2="1222.6" stroke-width="3.9"/>
<line x1="860.36" y1="46.4" x2="860.36" y2="57.4" stroke-width="3.9"/>
<line x1="869.62" y1="1211.6" x2="869.62" y2="1222.6" stroke-width="3.9"/>
<line x1="869.62" y1="46.4" x2="869.62" y2="57.4" stroke-width="3.9"/>
<line x1="877.79" y1="1211.6" x2="877.79" y2="1222.6" stroke-width="3.9"/>
<line x1="877.79" y1="46.4" x2="877.79" y2="57.4" stroke-width="3.9"/>
<line x1="885.10" y1="1211.6" x2="885.10" y2="1234.1" stroke-width="4.3"/>
<line x1="885.10" y1="46.4" x2="885.10" y2="68.9" stroke-width="4.3"/>
<line x1="933.17" y1="1211.6" x2="933.17" y2="1222.6" stroke-width="3.9"/>
<line x1="933.17" y1="46.4" x2="933.17" y2="57.4" stroke-width="3.9"/>
<line x1="961.30" y1="1211.6" x2="961.30" y2="1222.6" stroke-width="3.9"/>
<line x1="961.30" y1="46.4" x2="961.30" y2="57.4" stroke-width="3.9"/>
<line x1="981.25" y1="1211.6" x2="981.25" y2="1222.6" stroke-width="3.9"/>
<line x1="981.25" y1="46.4" x2="981.25" y2="57.4" stroke-width="3.9"/>
<line x1="996.73" y1="1211.6" x2="996.73" y2="1222.6" stroke-width="3.9"/>
<line x1="996.73" y1="46.4" x2="996.73" y2="57.4" stroke-width="3.9"/>
<line x1="1009.37" y1="1211.6" x2="1009.37" y2="1222.6" stroke-width="3.9"/>
<line x1="1009.37" y1="46.4" x2="1009.37" y2="57.4" stroke-width="3.9"/>
<line x1="1020.06" y1="1211.6" x2="1020.06" y2="1222.6" stroke-width="3.9"/>
<line x1="1020.06" y1="46.4" x2="1020.06" y2="57.4" stroke-width="3.9"/>
<line x1="1029.32" y1="1211.6" x2="1029.32" y2="1222.6" stroke-width="3.9"/>
<line x1="1029.32" y1="46.4" x2="1029.32" y2="57.4" stroke-width="3.9"/>
<line x1="1037.49" y1="1211.6" x2="1037.49" y2="1222.6" stroke-width="3.9"/>
<line x1="1037.49" y1="46.4" x2="1037.49" y2="57.4" stroke-width="3.9"/>
<line x1="1044.80" y1="1211.6" x2="1044.80" y2="1234.1" stroke-width="4.3"/>
<line x1="1044.80" y1="46.4" x2="1044.80" y2="68.9" stroke-width="4.3"/>
<line x1="1092.87" y1="1211.6" x2="1092.87" y2="1222.6" stroke-width="3.9"/>
<line x1="1092.87" y1="46.4" x2="1092.87" y2="57.4" stroke-width="3.9"/>
<line x1="1121.00" y1="1211.6" x2="1121.00" y2="1222.6" stroke-width="3.9"/>
<line x1="1121.00" y1="46.4" x2="1121.00" y2="57.4" stroke-width="3.9"/>
<line x1="1140.95" y1="1211.6" x2="1140.95" y2="1222.6" stroke-width="3.9"/>
<line x1="1140.95" y1="46.4" x2="1140.95" y2="57.4" stroke-width="3.9"/>
<line x1="1156.43" y1="1211.6" x2="1156.43" y2="1222.6" stroke-width="3.9"/>
<line x1="1156.43" y1="46.4" x2="1156.43" y2="57.4" stroke-width="3.9"/>
<line x1="1169.07" y1="1211.6" x2="1169.07" y2="1222.6" stroke-width="3.9"/>
<line x1="1169.07" y1="46.4" x2="1169.07" y2="57.4" stroke-width="3.9"/>
<line x1="1179.76" y1="1211.6" x2="1179.76" y2="1222.6" stroke-width="3.9"/>
<line x1="1179.76" y1="46.4" x2="1179.76" y2="57.4" stroke-width="3.9"/>
<line x1="1189.02" y1="1211.6" x2="1189.02" y2="1222.6" stroke-width="3.9"/>
<line x1="1189.02" y1="46.4" x2="1189.02" y2="57.4" stroke-width="3.9"/>
<line x1="1197.19" y1="1211.6" x2="1197.19" y2="1222.6" stroke-width="3.9"/>
<line x1="1197.19" y1="46.4" x2="1197.19" y2="57.4" stroke-width="3.9"/>
<line x1="1204.50" y1="1211.6" x2="1204.50" y2="1234.1" stroke-width="4.3"/>
<line x1="1204.50" y1="46.4" x2="1204.50" y2="68.9" stroke-width="4.3"/>
<line x1="1252.57" y1="1211.6" x2="1252.57" y2="1222.6" stroke-width="3.9"/>
<line x1="1252.57" y1="46.4" x2="1252.57" y2="57.4" stroke-width="3.9"/>
<line x1="1280.70" y1="1211.6" x2="1280.70" y2="1222.6" stroke-width="3.9"/>
<line x1="1280.70" y1="46.4" x2="1280.70" y2="57.4" stroke-width="3.9"/>
<line x1="1300.65" y1="1211.6" x2="1300.65" y2="1222.6" stroke-width="3.9"/>
<line x1="1300.65" y1="46.4" x2="1300.65" y2="57.4" stroke-width="3.9"/>
<line x1="1316.13" y1="1211.6" x2="1316.13" y2="1222.6" stroke-width="3.9"/>
<line x1="1316.13" y1="46.4" x2="1316.13" y2="57.4" stroke-width="3.9"/>
<line x1="1328.77" y1="1211.6" x2="1328.77" y2="1222.6" stroke-width="3.9"/>
<line x1="1328.77" y1="46.4" x2="1328.77" y2="57.4" stroke-width="3.9"/>
<line x1="1339.46" y1="1211.6" x2="1339.46" y2="1222.6" stroke-width="3.9"/>
<line x1="1339.46" y1="46.4" x2="1339.46" y2="57.4" stroke-width="3.9"/>
<line x1="1348.72" y1="1211.6" x2="1348.72" y2="1222.6" stroke-width="3.9"/>
<line x1="1348.72" y1="46.4" x2="1348.72" y2="57.4" stroke-width="3.9"/>
<line x1="1356.89" y1="1211.6" x2="1356.89" y2="1222.6" stroke-width="3.9"/>
<line x1="1356.89" y1="46.4" x2="1356.89" y2="57.4" stroke-width="3.9"/>
<line x1="1364.20" y1="1211.6" x2="1364.20" y2="1234.1" stroke-width="4.3"/>
<line x1="1364.20" y1="46.4" x2="1364.20" y2="68.9" stroke-width="4.3"/>
<line x1="1412.27" y1="1211.6" x2="1412.27" y2="1222.6" stroke-width="3.9"/>
<line x1="1412.27" y1="46.4" x2="1412.27" y2="57.4" stroke-width="3.9"/>
<line x1="1440.40" y1="1211.6" x2="1440.40" y2="1222.6" stroke-width="3.9"/>
<line x1="1440.40" y1="46.4" x2="1440.40" y2="57.4" stroke-width="3.9"/>
<line x1="1460.35" y1="1211.6" x2="1460.35" y2="1222.6" stroke-width="3.9"/>
<line x1="1460.35" y1="46.4" x2="1460.35" y2="57.4" stroke-width="3.9"/>
<line x1="1475.83" y1="1211.6" x2="1475.83" y2="1222.6" stroke-width="3.9"/>
<line x1="1475.83" y1="46.4" x2="1475.83" y2="57.4" stroke-width="3.9"/>
<line x1="1488.47" y1="1211.6" x2="1488.47" y2="1222.6" stroke-width="3.9"/>
<line x1="1488.47" y1="46.4" x2="1488.47" y2="57.4" stroke-width="3.9"/>
<line x1="1499.16" y1="1211.6" x2="1499.16" y2="1222.6" stroke-width="3.9"/>
<line x1="1499.16" y1="46.4" x2="1499.16" y2="57.4" stroke-width="3.9"/>
<line x1="1508.42" y1="1211.6" x2="1508.42" y2="1222.6" stroke-width="3.9"/>
<line x1="1508.42" y1="46.4" x2="1508.42" y2="57.4" stroke-width="3.9"/>
<line x1="1516.59" y1="1211.6" x2="1516.59" y2="1222.6" stroke-width="3.9"/>
<line x1="1516.59" y1="46.4" x2="1516.59" y2="57.4" stroke-width="3.9"/>
<line x1="1523.90" y1="1211.6" x2="1523.90" y2="1234.1" stroke-width="4.3"/>
<line x1="1523.90" y1="46.4" x2="1523.90" y2="68.9" stroke-width="4.3"/>
<line x1="1571.97" y1="1211.6" x2="1571.97" y2="1222.6" stroke-width="3.9"/>
<line x1="1571.97" y1="46.4" x2="1571.97" y2="57.4" stroke-width="3.9"/>
<line x1="1600.10" y1="1211.6" x2="1600.10" y2="1222.6" stroke-width="3.9"/>
<line x1="1600.10" y1="46.4" x2="1600.10" y2="57.4" stroke-width="3.9"/>
<line x1="1620.05" y1="1211.6" x2="1620.05" y2="1222.6" stroke-width="3.9"/>
<line x1="1620.05" y1="46.4" x2="1620.05" y2="57.4" stroke-width="3.9"/>
<line x1="1635.53" y1="1211.6" x2="1635.53" y2="1222.6" stroke-width="3.9"/>
<line x1="1635.53" y1="46.4" x2="1635.53" y2="57.4" stroke-width="3.9"/>
<line x1="1648.17" y1="1211.6" x2="1648.17" y2="1222.6" stroke-width="3.9"/>
<line x1="1648.17" y1="46.4" x2="1648.17" y2="57.4" stroke-width="3.9"/>
<line x1="1658.86" y1="1211.6" x2="1658.86" y2="1222.6" stroke-width="3.9"/>
<line x1="1658.86" y1="46.4" x2="1658.86" y2="57.4" stroke-width="3.9"/>
<line x1="1668.12" y1="1211.6" x2="1668.12" y2="1222.6" stroke-width="3.9"/>
<line x1="1668.12" y1="46.4" x2="1668.12" y2="57.4" stroke-width="3.9"/>
<line x1="1676.29" y1="1211.6" x2="1676.29" y2="1222.6" stroke-width="3.9"/>
<line x1="1676.29" y1="46.4" x2="1676.29" y2="57.4" stroke-width="3.9"/>
<line x1="1683.60" y1="1211.6" x2="1683.60" y2="1234.1" stroke-width="4.3"/>
<line x1="1683.60" y1="46.4" x2="1683.60" y2="68.9" stroke-width="4.3"/>
<line x1="223.8" y1="1211.60" x2="246.3" y2="1211.60" stroke-width="4.3"/>
<line x1="1667.5" y1="1211.60" x2="1690.0" y2="1211.60" stroke-width="4.3"/>
<line x1="235.3" y1="1146.87" x2="246.3" y2="1146.87" stroke-width="3.9"/>
<line x1="1679.0" y1="1146.87" x2="1690.0" y2="1146.87" stroke-width="3.9"/>
<line x1="223.8" y1="1082.13" x2="246.3" y2="1082.13" stroke-width="4.3"/>
<line x1="1667.5" y1="1082.13" x2="1690.0" y2="1082.13" stroke-width="4.3"/>
<line x1="235.3" y1="1017.40" x2="246.3" y2="1017.40" stroke-width="3.9"/>
<line x1="1679.0" y1="1017.40" x2="1690.0" y2="1017.40" stroke-width="3.9"/>
<line x1="223.8" y1="952.67" x2="246.3" y2="952.67" stroke-width="4.3"/>
<line x1="1667.5" y1="952.67" x2="1690.0" y2="952.67" stroke-width="4.3"/>
<line x1="235.3" y1="887.93" x2="246.3" y2="887.93" stroke-width="3.9"/>
<line x1="1679.0" y1="887.93" x2="1690.0" y2="887.93" stroke-width="3.9"/>
<line x1="223.8" y1="823.20" x2="246.3" y2="823.20" stroke-width="4.3"/>
<line x1="1667.5" y1="823.20" x2="1690.0" y2="823.20" stroke-width="4.3"/>
<line x1="235.3" y1="758.47" x2="246.3" y2="758.47" stroke-width="3.9"/>
<line x1="1679.0" y1="758.47" x2="1690.0" y2="758.47" stroke-width="3.9"/>
<line x1="223.8" y1="693.73" x2="246.3" y2="693.73" stroke-width="4.3"/>
<line x1="1667.5" y1="693.73" x2="1690.0" y2="693.73" stroke-width="4.3"/>
<line x1="235.3" y1="629.00" x2="246.3" y2="629.00" stroke-width="3.9"/>
<line x1="1679.0" y1="629.00" x2="1690.0" y2="629.00" stroke-width="3.9"/>
<line x1="223.8" y1="564.27" x2="246.3" y2="564.27" stroke-width="4.3"/>
<line x1="1667.5" y1="564.27" x2="1690.0" y2="564.27" stroke-width="4.3"/>
<line x1="235.3" y1="499.53" x2="246.3" y2="499.53" stroke-width="3.9"/>
<line x1="1679.0" y1="499.53" x2="1690.0" y2="499.53" stroke-width="3.9"/>
<line x1="223.8" y1="434.80" x2="246.3" y2="434.80" stroke-width="4.3"/>
<line x1="1667.5" y1="434.80" x2="1690.0" y2="434.80" stroke-width="4.3"/>
<line x1="235.3" y1="370.07" x2="246.3" y2="370.07" stroke-width="3.9"/>
<line x1="1679.0" y1="370.07" x2="1690.0" y2="370.07" stroke-width="3.9"/>
<line x1="223.8" y1="305.33" x2="246.3" y2="305.33" stroke-width="4.3"/>
<line x1="1667.5" y1="305.33" x2="1690.0" y2="305.33" stroke-width="4.3"/>
<line x1="235.3" y1="240.60" x2="246.3" y2="240.60" stroke-width="3.9"/>
<line x1="1679.0" y1="240.60" x2="1690.0" y2="240.60" stroke-width="3.9"/>
<line x1="223.8" y1="175.87" x2="246.3" y2="175.87" stroke-width="4.3"/>
<line x1="1667.5" y1="175.87" x2="1690.0" y2="175.87" stroke-width="4.3"/>
<line x1="235.3" y1="111.13" x2="246.3" y2="111.13" stroke-width="3.9"/>
<line x1="1679.0" y1="111.13" x2="1690.0" y2="111.13" stroke-width="3.9"/>
<line x1="223.8" y1="46.40" x2="246.3" y2="46.40" stroke-width="4.3"/>
<line x1="1667.5" y1="46.40" x2="1690.0" y2="46.40" stroke-width="4.3"/>
</g>
<rect x="246.3" y="46.4" width="1443.7" height="1165.2" fill="none" stroke="#000" stroke-width="4.5"/>
<rect x="1275.8" y="125.3" width="379.4" height="142.9" fill="#fff" stroke="#5a5a5a" stroke-width="1.6"/>
<line x1="1284.3" y1="162.9" x2="1404.5" y2="162.9" stroke="#ff0000" stroke-width="6.6" stroke-linecap="round"/>
<line x1="1284.3" y1="230.3" x2="1404.5" y2="230.3" stroke="#0000ff" stroke-width="6.6" stroke-linecap="round"/>
<text x="1435.88 1470.32 1502.69 1526.58 1563.79 1586.95" y="184.8" font-family="Liberation Serif, serif" font-size="58.3" fill="#000">origin</text>
<text x="1440.07 1467.53 1496.48 1532.99 1560.46 1588.68 1617.98" y="250.5" font-family="Liberation Serif, serif" font-size="58.3" fill="#000">revised</text>
<g font-family="Liberation Serif, serif" font-size="60.5" fill="#000">
<text x="208.3" y="1230.2" text-anchor="end">0</text>
<text x="208.3" y="1100.7" text-anchor="end">20</text>
<text x="208.3" y="971.3" text-anchor="end">40</text>
<text x="208.3" y="841.8" text-anchor="end">60</text>
<text x="208.3" y="712.3" text-anchor="end">80</text>
<text x="208.3" y="582.9" text-anchor="end">100</text>
<text x="208.3" y="453.4" text-anchor="end">120</text>
<text x="208.3" y="323.9" text-anchor="end">140</text>
<text x="208.3" y="194.5" text-anchor="end">160</text>
<text x="208.3" y="65.0" text-anchor="end">180</text>
<text x="246.3" y="1297.4" text-anchor="middle">1</text>
<text x="406.0" y="1297.4" text-anchor="middle">10</text>
<text x="565.7" y="1297.4" text-anchor="middle">100</text>
<text x="725.4" y="1297.4" text-anchor="middle">1k</text>
<text x="885.1" y="1297.4" text-anchor="middle">10k</text>
<text x="1044.8" y="1297.4" text-anchor="middle">100k</text>
<text x="1204.5" y="1297.4" text-anchor="middle">1M</text>
<text x="1364.2" y="1297.4" text-anchor="middle">10M</text>
<text x="1523.9" y="1297.4" text-anchor="middle">100M</text>
<text x="1683.6" y="1297.4" text-anchor="middle">1G</text>
</g>
<text x="968" y="1406.6" text-anchor="middle" font-family="Liberation Serif, serif" font-weight="bold" font-size="71.5">Frequency(Hz)</text>
<text transform="translate(89,630.2) rotate(-90)" text-anchor="middle" font-family="Liberation Serif, serif" font-weight="bold" font-size="71.5">PSRR(dB)</text>
</svg>
</body></html>
